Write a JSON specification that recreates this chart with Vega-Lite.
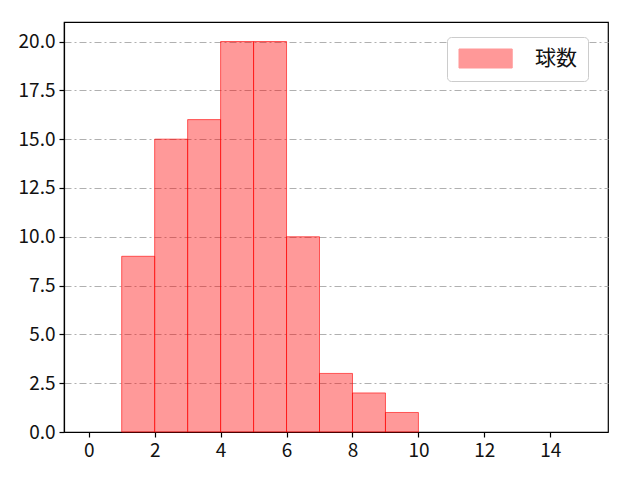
{
  "$schema": "https://vega.github.io/schema/vega-lite/v6.json",
  "width": 544,
  "height": 410,
  "autosize": {"type": "none"},
  "padding": {"left": 64, "top": 22, "right": 32, "bottom": 48},
  "background": "white",
  "config": {
    "font": "Noto Sans CJK JP",
    "view": {"stroke": "black", "strokeWidth": 1.2},
    "axis": {
      "labelFont": "Noto Sans CJK JP",
      "labelFontSize": 19,
      "labelColor": "#111111",
      "domainColor": "black",
      "domainWidth": 1.2,
      "tickColor": "black",
      "tickSize": 5,
      "tickWidth": 1.2,
      "labelPadding": 4,
      "title": null
    }
  },
  "data": {
    "values": [
      {"start": 1, "end": 2, "count": 9},
      {"start": 2, "end": 3, "count": 15},
      {"start": 3, "end": 4, "count": 16},
      {"start": 4, "end": 5, "count": 20},
      {"start": 5, "end": 6, "count": 20},
      {"start": 6, "end": 7, "count": 10},
      {"start": 7, "end": 8, "count": 3},
      {"start": 8, "end": 9, "count": 2},
      {"start": 9, "end": 10, "count": 1}
    ]
  },
  "mark": {"type": "rect", "fillOpacity": 0.4, "stroke": "#ff0000", "strokeOpacity": 0.6, "strokeWidth": 1},
  "encoding": {
    "x": {
      "field": "start", "type": "quantitative",
      "scale": {"domain": [-0.75, 15.75], "nice": false, "zero": false},
      "axis": {"values": [0, 2, 4, 6, 8, 10, 12, 14], "grid": false, "format": "d"}
    },
    "x2": {"field": "end"},
    "y": {
      "field": "count", "type": "quantitative",
      "scale": {"domain": [0, 21], "nice": false},
      "axis": {
        "values": [0, 2.5, 5, 7.5, 10, 12.5, 15, 17.5, 20],
        "format": ".1f",
        "grid": true,
        "gridColor": "#b0b0b0",
        "gridWidth": 1,
        "gridDash": [7, 3, 2, 3]
      }
    },
    "y2": {"datum": 0},
    "color": {
      "datum": "球数",
      "scale": {"range": ["#ff0000"]},
      "legend": {
        "title": null,
        "orient": "none",
        "legendX": 383,
        "legendY": 15,
        "padding": 11,
        "fillColor": "white",
        "strokeColor": "#cccccc",
        "cornerRadius": 4,
        "symbolType": "M-1,-1H4.6V1H-1Z",
        "symbolSize": 361,
        "symbolOpacity": 0.4,
        "symbolStrokeColor": "#ff0000",
        "symbolStrokeWidth": 1,
        "labelFont": "Noto Sans CJK JP",
        "labelFontSize": 21,
        "labelColor": "#111111",
        "labelOffset": 56
      }
    }
  }
}
